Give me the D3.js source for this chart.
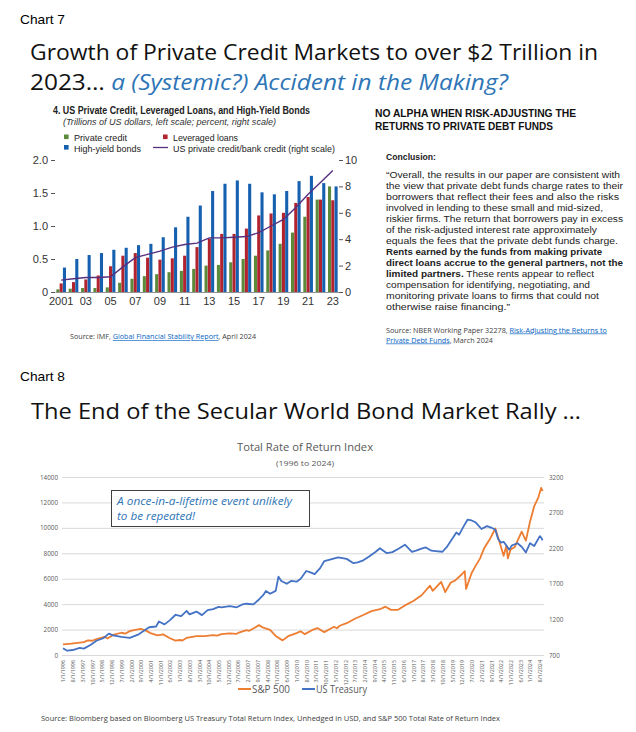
<!DOCTYPE html>
<html><head><meta charset="utf-8">
<script src="https://cdn.jsdelivr.net/npm/d3@7"></script>
<style>body{margin:0;background:#fff}svg{display:block}</style>
</head><body>
<svg id="c" width="636" height="732"></svg>
<script>
// ---------- Chart 7 data ----------
const years = ["2001","2002","2003","2004","2005","2006","2007","2008","2009","2010","2011","2012","2013","2014","2015","2016","2017","2018","2019","2020","2021","2022","2023"];
const privateCredit = [0.04,0.05,0.06,0.06,0.07,0.14,0.20,0.24,0.27,0.30,0.32,0.35,0.40,0.41,0.45,0.50,0.55,0.63,0.73,0.90,1.14,1.40,1.60];
const leveragedLoans = [0.13,0.15,0.19,0.25,0.39,0.55,0.59,0.52,0.49,0.51,0.55,0.68,0.81,0.88,0.88,0.96,1.16,1.19,1.20,1.35,1.44,1.40,1.39];
const highYield = [0.37,0.50,0.56,0.59,0.64,0.67,0.71,0.73,0.83,0.98,1.14,1.31,1.53,1.64,1.69,1.64,1.51,1.48,1.53,1.68,1.76,1.65,1.60];
const creditRatio = [0.9,1.0,1.1,1.1,1.15,1.9,2.6,2.85,3.1,3.4,3.6,3.7,4.1,4.1,4.15,4.2,4.5,5.0,5.5,6.4,7.4,8.3,9.2];
const leftTicks7 = [0,0.5,1.0,1.5,2.0];
const leftTickLabels7 = ["0","0.5","1.0","1.5","2.0"];
const rightTicks7 = [0,2,4,6,8,10];
const bottomTicks7 = ["2001","2003","2005","2007","2009","2011","2013","2015","2017","2019","2021","2023"];
const bottomTickLabels7 = ["2001","03","05","07","09","11","13","15","17","19","21","23"];

// ---------- Chart 8 data ----------
const spxDates = ["1996-01","1996-07","1997-01","1997-04","1997-07","1997-10","1998-01","1998-07","1998-09","1999-01","1999-07","1999-10","2000-01","2000-04","2000-09","2001-01","2001-04","2001-09","2002-01","2002-06","2002-10","2003-01","2003-03","2003-06","2004-01","2004-07","2005-01","2005-04","2005-07","2006-01","2006-06","2006-07","2007-01","2007-03","2007-07","2007-10","2008-01","2008-06","2008-10","2009-03","2009-07","2010-01","2010-04","2010-07","2011-01","2011-04","2011-09","2012-01","2012-04","2012-06","2012-08","2013-01","2013-07","2014-01","2014-07","2015-01","2015-05","2015-09","2016-02","2016-07","2017-01","2017-07","2018-01","2018-03","2018-09","2018-12","2019-04","2019-07","2019-12","2020-02","2020-03","2020-07","2020-10","2021-01","2021-04","2021-08","2021-12","2022-03","2022-06","2022-08","2022-09","2022-11","2023-02","2023-07","2023-10","2024-01","2024-04","2024-07","2024-09","2024-10"];
const spxValues = [840,890,980,1010,1150,1120,1250,1430,1300,1580,1750,1690,1880,1960,2050,1900,1720,1540,1620,1320,1130,1180,1140,1350,1480,1480,1570,1530,1640,1700,1660,1740,1950,1900,2150,2350,2150,1980,1500,1150,1480,1720,1870,1640,2000,2120,1800,2050,2220,2100,2300,2500,2850,3150,3450,3600,3800,3550,3550,3900,4250,4700,5450,5050,5750,4950,5700,5850,6350,6600,5200,6450,7050,7600,8400,9100,9950,8900,7800,8600,7600,8300,8500,9700,9000,10500,11700,12400,13150,12900];
const ustDates = ["1996-01","1996-04","1996-08","1997-01","1997-04","1997-09","1998-01","1998-06","1998-10","1999-01","1999-07","2000-01","2000-07","2000-12","2001-03","2001-08","2001-10","2002-02","2002-06","2002-10","2003-02","2003-06","2003-08","2004-01","2004-05","2004-09","2005-01","2005-05","2005-07","2006-01","2006-06","2006-10","2007-01","2007-06","2007-10","2008-01","2008-03","2008-06","2008-10","2008-12","2009-02","2009-06","2009-09","2010-01","2010-04","2010-08","2010-11","2011-02","2011-06","2011-09","2012-01","2012-07","2012-10","2013-01","2013-06","2013-09","2014-01","2014-05","2014-10","2015-01","2015-06","2015-10","2016-03","2016-07","2016-12","2017-03","2017-08","2017-10","2018-02","2018-05","2018-10","2019-01","2019-04","2019-08","2019-10","2020-01","2020-04","2020-07","2020-10","2021-02","2021-06","2021-09","2021-12","2022-02","2022-04","2022-06","2022-10","2022-12","2023-04","2023-07","2023-10","2024-01","2024-04","2024-08","2024-09","2024-10"];
const ustValues = [795,760,770,800,790,845,900,935,1000,975,955,940,985,1050,1090,1100,1170,1130,1190,1265,1245,1320,1270,1310,1260,1330,1345,1375,1370,1385,1370,1410,1420,1410,1480,1540,1600,1560,1600,1800,1740,1700,1740,1730,1770,1880,1860,1835,1920,2020,2040,2070,2060,2050,1990,2000,2030,2080,2150,2200,2130,2145,2200,2250,2150,2165,2200,2210,2165,2160,2150,2215,2300,2420,2390,2500,2600,2590,2560,2470,2510,2490,2460,2330,2280,2290,2180,2240,2270,2220,2140,2270,2230,2370,2350,2310];
const leftTicks8 = [0,2000,4000,6000,8000,10000,12000,14000];
const rightTicks8 = [700,1200,1700,2200,2700,3200];
const xLabels8 = ["1/1/1996","8/1/1996","3/1/1997","10/1/1997","5/1/1998","12/1/1998","7/1/1999","2/1/2000","9/1/2000","4/1/2001","11/1/2001","6/1/2002","1/1/2003","8/1/2003","3/1/2004","10/1/2004","5/1/2005","12/1/2005","7/1/2006","2/1/2007","9/1/2007","4/1/2008","11/1/2008","6/1/2009","1/1/2010","8/1/2010","3/1/2011","10/1/2011","5/1/2012","12/1/2012","7/1/2013","2/1/2014","9/1/2014","4/1/2015","11/1/2015","6/1/2016","1/1/2017","8/1/2017","3/1/2018","10/1/2018","5/1/2019","12/1/2019","7/1/2020","2/1/2021","9/1/2021","4/1/2022","11/1/2022","6/1/2023","1/1/2024","8/1/2024"];

// ---------- helpers ----------
const CAL = "'Open Sans','Noto Sans',sans-serif";
const ARI = "'Liberation Sans',Arial,sans-serif";
const NAR = "'Liberation Sans Narrow','Arial Narrow','Liberation Sans',Arial,sans-serif";
const svg = d3.select("#c");
function txt(g, x, y, parts, o) {
  const t = g.append("text").attr("x", x).attr("y", y)
    .attr("font-family", o.ff).attr("font-size", o.fs).attr("fill", o.fill || "#000")
    .attr("text-anchor", o.anchor || "start");
  if (o.fw) t.attr("font-weight", o.fw);
  if (o.fst) t.attr("font-style", o.fst);
  (typeof parts === "string" ? [{t: parts}] : parts).forEach(p => {
    const s = t.append("tspan").text(p.t);
    if (p.fw) s.attr("font-weight", p.fw);
    if (p.fst) s.attr("font-style", p.fst);
    if (p.fill) s.attr("fill", p.fill);
    if (p.u) s.attr("text-decoration", "underline");
  });
  if (o.w) t.attr("textLength", o.w).attr("lengthAdjust", "spacingAndGlyphs");
  return t;
}
const BLUE_T = "#2E75B6", LINK = "#0563C1";

// ---------- Headers ----------
txt(svg, 20, 24, "Chart 7", {ff: ARI, fs: 13.5, w: 45});
txt(svg, 30, 60, "Growth of Private Credit Markets to over $2 Trillion in", {ff: CAL, fs: 21.8, w: 568, fill: "#111"});
txt(svg, 30, 90, [{t: "2023… "}, {t: "a (Systemic?) Accident in the Making?", fst: "italic", fill: BLUE_T}], {ff: CAL, fs: 21.8, w: 478, fill: "#111"});

// ---------- Chart 7 bar chart ----------
const g7 = svg.append("g");
txt(g7, 53, 113.5, "4. US Private Credit, Leveraged Loans, and High-Yield Bonds", {ff: NAR, fs: 10, fw: 700, w: 257, fill: "#222"});
txt(g7, 63, 124.5, "(Trillions of US dollars, left scale; percent, right scale)", {ff: NAR, fs: 9.5, fst: "italic", w: 213, fill: "#333"});

const C_G = "#5b8a3b", C_R = "#b1232f", C_B = "#1660b0", C_P = "#55307f";
const leg = [
  {type: "sq", c: C_G, x: 64, y: 134.5, tx: 74, ty: 140.5, t: "Private credit", w: 53},
  {type: "sq", c: C_R, x: 163, y: 134.5, tx: 173, ty: 140.5, t: "Leveraged loans", w: 65},
  {type: "sq", c: C_B, x: 64, y: 145, tx: 74, ty: 151.5, t: "High-yield bonds", w: 67},
  {type: "ln", c: C_P, x: 153, y: 147.5, tx: 173, ty: 151.5, t: "US private credit/bank credit (right scale)", w: 162}
];
leg.forEach(l => {
  if (l.type === "sq") g7.append("rect").attr("x", l.x).attr("y", l.y).attr("width", 4.6).attr("height", 4.6).attr("fill", l.c);
  else g7.append("line").attr("x1", l.x).attr("x2", l.x + 15).attr("y1", l.y).attr("y2", l.y).attr("stroke", l.c).attr("stroke-width", 1.3);
  txt(g7, l.tx, l.ty, l.t, {ff: NAR, fs: 9.8, w: l.w, fill: "#222"});
});

const yL7 = d3.scaleLinear().domain([0, 2]).range([292, 160]);
const yR7 = d3.scaleLinear().domain([0, 10]).range([292, 160]);
const x0 = d3.scaleBand().domain(years).range([55, 339]).paddingInner(0.22).paddingOuter(0.11);
const seriesNames = ["pc", "ll", "hy"];
const seriesVals = {pc: privateCredit, ll: leveragedLoans, hy: highYield};
const seriesCol = {pc: C_G, ll: C_R, hy: C_B};
const x1 = d3.scaleBand().domain(seriesNames).range([0, x0.bandwidth()]).paddingInner(0.06);

seriesNames.forEach(s => {
  g7.append("g").selectAll("rect").data(years).join("rect")
    .attr("x", (d) => x0(d) + x1(s))
    .attr("width", x1.bandwidth())
    .attr("y", (d, i) => yL7(seriesVals[s][i]))
    .attr("height", (d, i) => yL7(0) - yL7(seriesVals[s][i]))
    .attr("fill", seriesCol[s]);
});
g7.append("path").datum(creditRatio)
  .attr("d", d3.line().x((d, i) => x0(years[i]) + x0.bandwidth() / 2).y(d => yR7(d)))
  .attr("fill", "none").attr("stroke", C_P).attr("stroke-width", 1.4);

const axL7 = g7.append("g").attr("transform", "translate(55,0)")
  .call(d3.axisLeft(yL7).tickValues(leftTicks7).tickFormat((d, i) => leftTickLabels7[i]).tickSize(4).tickPadding(3));
const axR7 = g7.append("g").attr("transform", "translate(339,0)")
  .call(d3.axisRight(yR7).tickValues(rightTicks7).tickSize(4).tickPadding(2));
const axB7 = g7.append("g").attr("transform", "translate(0,292)")
  .call(d3.axisBottom(x0).tickValues(bottomTicks7).tickFormat((d, i) => bottomTickLabels7[i]).tickSize(0).tickSizeOuter(0).tickPadding(5));
[axL7, axR7].forEach(a => a.select(".domain").remove());
axB7.select(".domain").attr("stroke", "#777").attr("stroke-width", 0.8);
[axL7, axR7, axB7].forEach(a => {
  a.selectAll("text").attr("font-family", NAR).attr("font-size", 11).attr("fill", "#333");
  a.selectAll("line").attr("stroke", "#555");
});

txt(g7, 70, 339, [{t: "Source: IMF, "}, {t: "Global Financial Stability Report", fill: LINK, u: 1}, {t: ", April 2024"}], {ff: CAL, fs: 6.5, w: 186, fill: "#404040"});

// ---------- Chart 7 right text panel ----------
const gT = svg.append("g");
const PF = "'Liberation Sans',Arial,sans-serif";
txt(gT, 375, 117, "NO ALPHA WHEN RISK-ADJUSTING THE", {ff: PF, fs: 10.3, fw: 700, w: 201, fill: "#111"});
txt(gT, 375, 130, "RETURNS TO PRIVATE DEBT FUNDS", {ff: PF, fs: 10.3, fw: 700, w: 178, fill: "#111"});
txt(gT, 386, 160, "Conclusion:", {ff: PF, fs: 8.8, fw: 700, w: 50, fill: "#222"});
const para = [
  [{t: "“Overall, the results in our paper are consistent with"}],
  [{t: "the view that private debt funds charge rates to their"}],
  [{t: "borrowers that reflect their fees and also the risks"}],
  [{t: "involved in lending to these small and mid-sized,"}],
  [{t: "riskier firms. The return that borrowers pay in excess"}],
  [{t: "of the risk-adjusted interest rate approximately"}],
  [{t: "equals the fees that the private debt funds charge."}],
  [{t: "Rents earned by the funds from making private", fw: 700}],
  [{t: "direct loans accrue to the general partners, not the", fw: 700}],
  [{t: "limited partners.", fw: 700}, {t: " These rents appear to reflect"}],
  [{t: "compensation for identifying, negotiating, and"}],
  [{t: "monitoring private loans to firms that could not"}],
  [{t: "otherwise raise financing.”"}]
];
const paraW = [234, 237, 233, 217, 237, 211, 232, 216, 237, 208, 204, 213, 124];
para.forEach((p, i) => txt(gT, 386, 177.5 + i * 11.05, p, {ff: PF, fs: 9.2, w: paraW[i], fill: "#222"}));
txt(gT, 386, 332.5, [{t: "Source: NBER Working Paper 32278, "}, {t: "Risk-Adjusting the Returns to", fill: LINK, u: 1}], {ff: CAL, fs: 6.8, w: 221, fill: "#404040"});
txt(gT, 386, 342.5, [{t: "Private Debt Funds", fill: LINK, u: 1}, {t: ", March 2024"}], {ff: CAL, fs: 6.8, w: 107, fill: "#404040"});

// ---------- Chart 8 ----------
txt(svg, 20, 381, "Chart 8", {ff: ARI, fs: 13.5, w: 45});
txt(svg, 31, 419, "The End of the Secular World Bond Market Rally …", {ff: CAL, fs: 21.8, w: 550, fill: "#111"});

const g8 = svg.append("g");
txt(g8, 305, 451, "Total Rate of Return Index", {ff: CAL, fs: 11, anchor: "middle", w: 136, fill: "#595959"});
txt(g8, 305, 466, "(1996 to 2024)", {ff: CAL, fs: 8, anchor: "middle", w: 58, fill: "#595959"});

const parseM = d3.timeParse("%Y-%m");
const parseL = d3.timeParse("%m/%d/%Y");
const x8 = d3.scaleTime().domain([new Date(1996, 0, 1), new Date(2024, 10, 1)]).range([63, 544]);
const yL8 = d3.scaleLinear().domain([0, 14000]).range([655, 477]);
const yR8 = d3.scaleLinear().domain([700, 3200]).range([655, 477]);

g8.append("g").selectAll("line").data(leftTicks8).join("line")
  .attr("x1", 62).attr("x2", 544).attr("y1", d => yL8(d) + 0.5).attr("y2", d => yL8(d) + 0.5)
  .attr("stroke", "#d9d9d9").attr("stroke-width", 1);

const axL8 = g8.append("g").attr("transform", "translate(62,0)")
  .call(d3.axisLeft(yL8).tickValues(leftTicks8).tickFormat(d3.format("d")).tickSize(0).tickPadding(4));
const axR8 = g8.append("g").attr("transform", "translate(544,0)")
  .call(d3.axisRight(yR8).tickValues(rightTicks8).tickFormat(d3.format("d")).tickSize(0).tickPadding(5));
[axL8, axR8].forEach(a => {
  a.select(".domain").remove();
  a.selectAll("text").attr("font-family", CAL).attr("font-size", 6.3).attr("fill", "#595959");
});

// x labels
const axB8 = g8.append("g").attr("transform", "translate(0,655)")
  .call(d3.axisBottom(x8).tickValues(xLabels8.map(parseL)).tickFormat((d, i) => xLabels8[i]).tickSize(0).tickPadding(0));
axB8.select(".domain").remove();
axB8.selectAll("text")
  .attr("font-family", CAL).attr("font-size", 5.4).attr("fill", "#595959")
  .attr("transform", "rotate(-90)").attr("text-anchor", "end")
  .attr("x", -5).attr("y", 0).attr("dy", "0.35em");

const spx = spxDates.map((d, i) => ({d: parseM(d), v: spxValues[i]}));
const ust = ustDates.map((d, i) => ({d: parseM(d), v: ustValues[i]}));
g8.append("path").datum(spx)
  .attr("d", d3.line().x(p => x8(p.d)).y(p => yL8(p.v)))
  .attr("fill", "none").attr("stroke", "#ED7D31").attr("stroke-width", 1.8).attr("stroke-linejoin", "round");
g8.append("path").datum(ust)
  .attr("d", d3.line().x(p => x8(p.d)).y(p => yR8(p.v)))
  .attr("fill", "none").attr("stroke", "#4472C4").attr("stroke-width", 1.8).attr("stroke-linejoin", "round");

// annotation box
g8.append("rect").attr("x", 111.5).attr("y", 490.5).attr("width", 198).attr("height", 36)
  .attr("fill", "#fff").attr("stroke", "#404040").attr("stroke-width", 1);
txt(g8, 117, 504.5, "A once-in-a-lifetime event unlikely", {ff: CAL, fs: 10.8, fst: "italic", w: 175, fill: BLUE_T});
txt(g8, 117, 519.5, "to be repeated!", {ff: CAL, fs: 10.8, fst: "italic", w: 78, fill: BLUE_T});

// legend
g8.append("line").attr("x1", 238).attr("x2", 251).attr("y1", 689).attr("y2", 689).attr("stroke", "#ED7D31").attr("stroke-width", 2);
txt(g8, 252, 693, "S&P 500", {ff: CAL, fs: 10.5, w: 38, fill: "#595959"});
g8.append("line").attr("x1", 302).attr("x2", 315).attr("y1", 689).attr("y2", 689).attr("stroke", "#4472C4").attr("stroke-width", 2);
txt(g8, 316, 693, "US Treasury", {ff: CAL, fs: 10.5, w: 51, fill: "#595959"});

txt(svg, 41, 721, "Source: Bloomberg based on Bloomberg US Treasury Total Return Index, Unhedged in USD, and S&P 500 Total Rate of Return Index", {ff: CAL, fs: 7.2, w: 459, fill: "#404040"});
</script>
</body></html>
